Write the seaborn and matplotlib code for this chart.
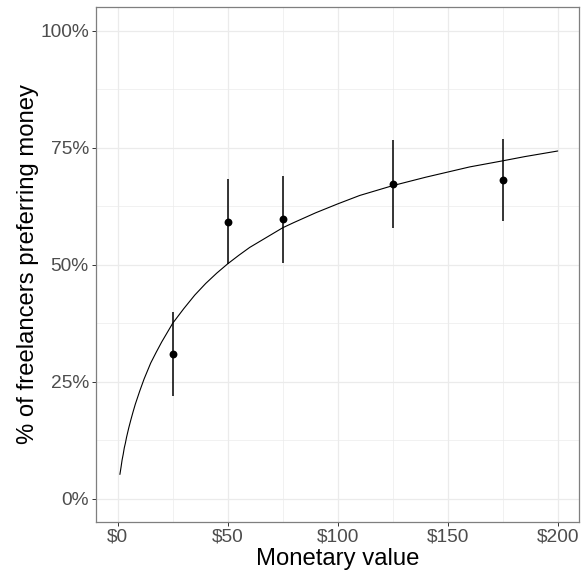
import numpy as np
import pandas as pd
import matplotlib
matplotlib.use("Agg")
import matplotlib.pyplot as plt
import seaborn as sns
from matplotlib.ticker import FuncFormatter, MultipleLocator

# observed points (share preferring money) with interval ends
amount = [25, 50, 75, 125, 175]
share = [0.310, 0.592, 0.598, 0.673, 0.681]
share_lo = [0.219, 0.502, 0.504, 0.579, 0.593]
share_hi = [0.399, 0.683, 0.690, 0.767, 0.769]

# fitted curve
curve_x = [1, 1.5, 2, 2.5, 3, 3.5, 4, 5, 6, 7, 8, 10, 12, 15, 17.5, 20, 25, 30, 35, 40,
           45, 50, 55, 60, 65, 70, 75, 80, 90, 100, 110, 125, 140, 150, 160, 175, 185, 200]
curve_y = [0.052, 0.067, 0.083, 0.095, 0.109, 0.119, 0.131, 0.151, 0.169, 0.186, 0.202,
           0.230, 0.256, 0.290, 0.313, 0.335, 0.375, 0.406, 0.435, 0.460, 0.482, 0.502,
           0.520, 0.537, 0.551, 0.565, 0.579, 0.590, 0.611, 0.630, 0.648, 0.669, 0.687,
           0.698, 0.709, 0.722, 0.731, 0.743]

pts = pd.DataFrame({"amount": amount, "share": share, "lo": share_lo, "hi": share_hi})
fit = pd.DataFrame({"x": curve_x, "y": curve_y})

sns.set_theme(style="whitegrid")
plt.rcParams["font.family"] = ["Liberation Sans", "DejaVu Sans"]

fig = plt.figure(figsize=(5.87, 5.72), dpi=100)
ax = fig.add_axes([95.7 / 587, 1 - 521.7 / 572, (579.3 - 95.7) / 587, (521.7 - 7.3) / 572])

ax.set_facecolor("white")
ax.set_axisbelow(True)
ax.grid(True, which="major", color="#EBEBEB", linewidth=0.9)
ax.grid(True, which="minor", color="#EBEBEB", linewidth=0.5)
ax.xaxis.set_major_locator(MultipleLocator(50))
ax.xaxis.set_minor_locator(MultipleLocator(25))
ax.yaxis.set_major_locator(MultipleLocator(0.25))
ax.yaxis.set_minor_locator(MultipleLocator(0.125))

sns.lineplot(data=fit, x="x", y="y", ax=ax, color="black", linewidth=0.8)
ax.vlines(pts["amount"], pts["lo"], pts["hi"], color="black", linewidth=1.1)
sns.scatterplot(data=pts, x="amount", y="share", ax=ax, color="black", s=32,
                edgecolor="black", linewidth=0, zorder=3)

ax.set_xlim(-10, 209.8)
ax.set_ylim(-0.049, 1.05)
ax.xaxis.set_major_formatter(FuncFormatter(lambda v, p: f"${v:.0f}"))
ax.yaxis.set_major_formatter(FuncFormatter(lambda v, p: f"{v * 100:.0f}%"))

ax.tick_params(which="major", length=3, width=0.7, color="#333333",
               labelsize=13.8, labelcolor="#4D4D4D", pad=2,
               bottom=True, left=True)
ax.tick_params(which="minor", length=0)
for s in ax.spines.values():
    s.set_color("#7f7f7f")
    s.set_linewidth(0.9)

ax.set_xlabel("Monetary value", fontsize=17.2, color="black", labelpad=1.5)
ax.set_ylabel("% of freelancers preferring money", fontsize=17.2, color="black", labelpad=1)

fig.savefig("out.png", dpi=100)
